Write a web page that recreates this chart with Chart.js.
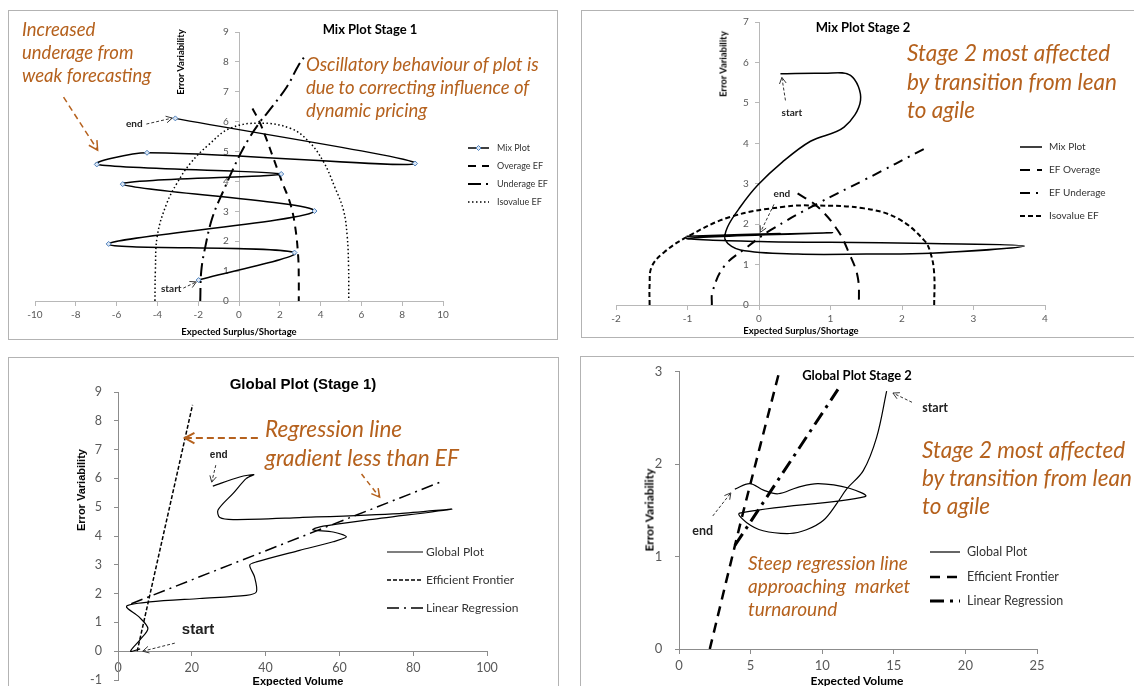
<!DOCTYPE html>
<html>
<head>
<meta charset="utf-8">
<title>Mix and Global plots</title>
<script src="https://cdn.jsdelivr.net/npm/chart.js@4.4.1/dist/chart.umd.min.js"></script>
<style>
  html, body { margin: 0; padding: 0; background: #fff; }
  body { position: relative; width: 1134px; height: 686px; overflow: hidden; font-family: Lato, "Open Sans", sans-serif; }
  .panel { position: absolute; border: 1px solid #b3b3b3; background: #fff; }
  .panel canvas { position: absolute; left: 0; top: 0; }
  .lbl { position: absolute; white-space: nowrap; transform: translate(-50%, -50%); color: #000; font-weight: bold; }
  .vert { transform: translate(-50%, -50%) rotate(-90deg); }
  .note { position: absolute; white-space: nowrap; color: #b5611d; font-style: italic; }
  .arial { font-family: "Liberation Sans", Arial, sans-serif; }
</style>
</head>
<body>
<div class="panel" style="left:8px;top:10px;width:548px;height:328px"><canvas id="c1" width="548" height="328"></canvas></div>
<div class="panel" style="left:581px;top:10px;width:558px;height:326px"><canvas id="c2" width="558" height="326"></canvas></div>
<div class="panel" style="left:8px;top:357px;width:549px;height:340px"><canvas id="c3" width="549" height="340"></canvas></div>
<div class="panel" style="left:580px;top:356px;width:558px;height:340px"><canvas id="c4" width="558" height="340"></canvas></div>

<div class="lbl" style="left:370px;top:29px;font-size:13px">Mix Plot Stage 1</div>
<div class="lbl" style="left:239px;top:331px;font-size:9.5px">Expected Surplus/Shortage</div>
<div class="lbl vert" style="left:180px;top:62px;font-size:9.5px">Error Variability</div>
<div class="note" style="left:22px;top:18px;font-size:18.5px;line-height:23px">Increased<br>underage from<br>weak forecasting</div>
<div class="note" style="left:306px;top:53px;font-size:18.5px;line-height:23px">Oscillatory behaviour of plot is<br>due to correcting influence of<br>dynamic pricing</div>

<div class="lbl" style="left:863px;top:27px;font-size:13px">Mix Plot Stage 2</div>
<div class="lbl" style="left:801px;top:330px;font-size:9.5px">Expected Surplus/Shortage</div>
<div class="lbl vert" style="left:723px;top:64px;font-size:9.5px">Error Variability</div>
<div class="note" style="left:907px;top:39px;font-size:22.5px;line-height:28.5px">Stage 2 most affected<br>by transition from lean<br>to agile</div>

<div class="lbl arial" style="left:303px;top:383px;font-size:15px">Global Plot (Stage 1)</div>
<div class="lbl arial" style="left:298px;top:681px;font-size:11px">Expected Volume</div>
<div class="lbl vert arial" style="left:81px;top:490px;font-size:11px">Error Variability</div>
<div class="note" style="left:265px;top:414px;font-size:22.5px;line-height:29px">Regression line<br>gradient less than EF</div>

<div class="lbl" style="left:857px;top:375px;font-size:13px">Global Plot Stage 2</div>
<div class="lbl" style="left:857px;top:680px;font-size:12px">Expected Volume</div>
<div class="lbl vert" style="left:649px;top:510px;font-size:12px">Error Variability</div>
<div class="note" style="left:922px;top:436px;font-size:22.5px;line-height:28px">Stage 2 most affected<br>by transition from lean<br>to agile</div>
<div class="note" style="left:748px;top:551px;font-size:19px;line-height:23px">Steep regression line<br>approaching&nbsp; market<br>turnaround</div>

<script>
// ---- Mix Plot Stage 1 ----
const mix1X = [-1.98, 2.72, -6.39, 3.70, -5.70, 2.07, -6.97, -4.51, 8.63, -3.12];
const mix1Y = [0.70, 1.62, 1.91, 3.01, 3.91, 4.25, 4.57, 4.96, 4.60, 6.11];
const over1X = [0.66, 1.0, 1.3, 1.69, 2.1, 2.51, 2.75, 2.9, 2.93, 2.93];
const over1Y = [6.44, 6.0, 5.5, 4.77, 4.0, 3.27, 2.5, 1.5, 0.75, 0];
const under1X = [-1.9, -1.85, -1.65, -1.3, -0.75, 0, 0.5, 1.04, 1.37, 2.35, 2.92, 3.33];
const under1Y = [0, 1.0, 1.82, 2.8, 3.71, 4.83, 5.45, 6.0, 6.28, 7.17, 7.89, 8.28];
const iso1X = [-4.12, -4.1, -4.0, -3.55, -3.04, -2.39, -1.5, -0.43, 1.04, 2.51, 3.4, 4.14, 4.7, 5.12, 5.3, 5.37, 5.38];
const iso1Y = [0, 1.0, 2.2, 3.25, 3.94, 4.6, 5.22, 5.78, 5.95, 5.78, 5.35, 4.66, 3.8, 3.04, 2.2, 1.2, 0];

// ---- Mix Plot Stage 2 ----
const mix2X = [0.30, 0.9, 1.28, 1.42, 1.19, 0.72, 0.33, -0.02, -0.26, -0.44, -0.47, -0.26, 0.54, 1.5, 2.4, 3.71, 2.4, 1.0, 0.0, -1.0, 1.03, -1.0, 0.30];
const mix2Y = [5.72, 5.73, 5.68, 5.06, 4.40, 4.05, 3.54, 2.96, 2.43, 1.93, 1.60, 1.36, 1.26, 1.26, 1.28, 1.46, 1.52, 1.55, 1.57, 1.65, 1.79, 1.70, 1.77];
const over2X = [0.54, 0.82, 1.10, 1.26, 1.38, 1.40];
const over2Y = [2.76, 2.43, 1.85, 1.28, 0.70, 0];
const under2X = [-0.66, -0.65, -0.49, -0.19, 0.16, 0.82, 1.47, 2.36];
const under2Y = [0, 0.33, 0.95, 1.40, 1.85, 2.51, 3.09, 3.91];
const iso2X = [-1.53, -1.53, -1.5, -1.33, -1.0, -0.4, 0.35, 0.8, 1.47, 1.94, 2.31, 2.40, 2.45, 2.45];
const iso2Y = [0, 0.5, 0.95, 1.3, 1.69, 2.18, 2.43, 2.46, 2.39, 2.14, 1.6, 1.28, 0.78, 0];

// ---- Global Plot (Stage 1) ----
const glob1X = [6.0, 3.4, 6.0, 8.1, 5.7, 2.3, 8.6, 22.1, 34.8, 37.5, 37.0, 35.7, 37.5, 49.2, 58.3, 61.9, 58.3, 52.8, 55.6, 67.3, 90.4, 76.3, 49.2, 31.2, 27.6, 27.1, 31.2, 34.8, 36.8, 33.0, 25.7];
const glob1Y = [0.08, 0.0, 0.4, 0.79, 1.19, 1.56, 1.71, 1.83, 1.94, 2.06, 2.58, 2.99, 3.1, 3.5, 3.8, 3.97, 4.14, 4.22, 4.34, 4.55, 4.93, 4.78, 4.64, 4.57, 4.64, 4.9, 5.48, 6.0, 6.13, 6.05, 5.73];
const ef1X = [5.2, 20.2];
const ef1Y = [0, 8.55];
const reg1X = [3.6, 88.1];
const reg1Y = [1.65, 5.91];

// ---- Global Plot Stage 2 ----
const glob2X = [14.5, 13.8, 12.87, 11.7, 11.0, 10.07, 8.9, 7.74, 5.87, 4.71, 4.24, 12.99, 11.9, 9.72, 8.3, 6.92, 5.9, 4.94, 3.9];
const glob2Y = [2.79, 2.29, 1.93, 1.73, 1.57, 1.39, 1.29, 1.25, 1.28, 1.37, 1.47, 1.65, 1.74, 1.79, 1.75, 1.68, 1.72, 1.79, 1.73];
const ef2X = [2.15, 4.4, 7.0];
const ef2Y = [0, 1.43, 3.0];
const reg2X = [3.9, 11.1];
const reg2Y = [1.12, 2.81];

const ORANGE = '#b5611d';
Chart.defaults.font.family = 'Lato';

function pts(xs, ys) {
  return xs.map((x, i) => ({ x: x, y: ys[i] }));
}

function series(label, xs, ys, style) {
  return Object.assign({
    label: label, data: pts(xs, ys), showLine: true, fill: false,
    borderColor: '#000', backgroundColor: '#000', borderWidth: 1.5,
    pointRadius: 0, tension: 0.4
  }, style);
}

// gap: spaces after a y label, since labels of an axis placed at a value sit right on the line
function axis(min, max, step, pos, size, pad, col, gap) {
  const a = {
    type: 'linear', min: min, max: max, position: pos,
    ticks: { stepSize: step, autoSkip: false, maxRotation: 0, color: '#595959', padding: pad, font: { size: size } },
    grid: { drawOnChartArea: false, drawTicks: true, tickLength: 4, color: col },
    border: { display: true, color: col }
  };
  if (gap) a.ticks.callback = v => v + ' '.repeat(gap);
  return a;
}

// arrows, start/end labels and the side legend
const notePlugin = {
  id: 'notes',
  afterDraw(chart, args, opts) {
    const ctx = chart.ctx, sx = chart.scales.x, sy = chart.scales.y;
    ctx.save();
    (opts.arrows || []).forEach(a => {
      const x1 = sx.getPixelForValue(a.from[0]), y1 = sy.getPixelForValue(a.from[1]);
      const x2 = sx.getPixelForValue(a.to[0]), y2 = sy.getPixelForValue(a.to[1]);
      ctx.strokeStyle = a.color || '#333';
      ctx.lineWidth = a.width || 1;
      ctx.setLineDash(a.dash || [3, 2]);
      ctx.beginPath(); ctx.moveTo(x1, y1); ctx.lineTo(x2, y2); ctx.stroke();
      const ang = Math.atan2(y2 - y1, x2 - x1), h = a.head || 7;
      ctx.setLineDash([]);
      ctx.beginPath();
      ctx.moveTo(x2 - h * Math.cos(ang - 0.5), y2 - h * Math.sin(ang - 0.5));
      ctx.lineTo(x2, y2);
      ctx.lineTo(x2 - h * Math.cos(ang + 0.5), y2 - h * Math.sin(ang + 0.5));
      ctx.stroke();
    });
    (opts.labels || []).forEach(l => {
      ctx.fillStyle = '#222';
      ctx.font = l.font || opts.labelFont;
      ctx.textAlign = 'center';
      ctx.textBaseline = 'middle';
      ctx.fillText(l.text, sx.getPixelForValue(l.x), sy.getPixelForValue(l.y));
    });
    const lg = opts.legend;
    if (lg) {
      chart.data.datasets.forEach((ds, i) => {
        const y = lg.ys[i];
        ctx.strokeStyle = ds.borderColor;
        ctx.lineWidth = ds.borderWidth;
        ctx.setLineDash(ds.borderDash || []);
        ctx.beginPath(); ctx.moveTo(lg.x, y); ctx.lineTo(lg.x + lg.len, y); ctx.stroke();
        ctx.setLineDash([]);
        if (ds.pointRadius > 0) {
          const cx = lg.x + lg.len / 2, r = ds.pointRadius;
          ctx.beginPath();
          ctx.moveTo(cx, y - r); ctx.lineTo(cx + r, y); ctx.lineTo(cx, y + r); ctx.lineTo(cx - r, y); ctx.closePath();
          ctx.fillStyle = ds.pointBackgroundColor; ctx.fill();
          ctx.strokeStyle = ds.pointBorderColor; ctx.lineWidth = 1; ctx.stroke();
        }
        ctx.fillStyle = '#333';
        ctx.font = lg.font;
        ctx.textAlign = 'left';
        ctx.textBaseline = 'middle';
        ctx.fillText(ds.label, lg.x + lg.len + lg.gap, y);
      });
    }
    ctx.restore();
  }
};

function makeChart(id, datasets, xAxis, yAxis, pad, notes) {
  return new Chart(document.getElementById(id), {
    type: 'scatter',
    data: { datasets: datasets },
    options: {
      responsive: false, animation: false, events: [],
      layout: { padding: pad },
      scales: { x: xAxis, y: yAxis },
      plugins: { legend: { display: false }, tooltip: { enabled: false }, notes: notes }
    },
    plugins: [notePlugin]
  });
}

makeChart('c1', [
  series('Mix Plot', mix1X, mix1Y, { tension: 0.3, pointRadius: 2.5, pointStyle: 'rectRot', pointBorderColor: '#4f81bd', pointBackgroundColor: '#dce6f2', pointBorderWidth: 1 }),
  series('Overage EF', over1X, over1Y, { borderWidth: 2, borderDash: [8, 6] }),
  series('Underage EF', under1X, under1Y, { borderWidth: 2, borderDash: [13, 5, 2, 5] }),
  series('Isovalue EF', iso1X, iso1Y, { borderWidth: 1.5, borderDash: [1.5, 2.5] })
], axis(-10, 10, 2, { y: 0 }, 10, 4, '#b8b8b8'), axis(0, 9, 1, { x: 0 }, 10, 4, '#b8b8b8', 4),
  { left: 26, right: 114, top: 21, bottom: 38 },
  {
    labelFont: 'bold 10px Lato',
    labels: [{ text: 'end', x: -5.13, y: 5.92 }, { text: 'start', x: -3.32, y: 0.40 }],
    arrows: [
      { from: [-4.54, 5.92], to: [-3.27, 6.12] },
      { from: [-2.73, 0.43], to: [-2.09, 0.64] },
      { from: [-8.60, 6.82], to: [-6.93, 5.05], color: ORANGE, width: 1.5, dash: [6, 4], head: 10 }
    ],
    legend: { x: 459, len: 21, gap: 8, ys: [137, 155, 173, 191], font: '9px Lato' }
  });

makeChart('c2', [
  series('Mix Plot', mix2X, mix2Y, { tension: 0.35 }),
  series('EF Overage', over2X, over2Y, { borderWidth: 2, borderDash: [10, 7] }),
  series('EF Underage', under2X, under2Y, { borderWidth: 2, borderDash: [10, 6, 2, 6] }),
  series('Isovalue EF', iso2X, iso2Y, { borderWidth: 2, borderDash: [5, 3] })
], axis(-2, 4, 1, { y: 0 }, 10, 4, '#b8b8b8'), axis(0, 7, 1, { x: 0 }, 10, 4, '#b8b8b8', 4),
  { left: 34, right: 95, top: 11, bottom: 32 },
  {
    labelFont: 'bold 10px Lato',
    labels: [{ text: 'start', x: 0.46, y: 4.75 }, { text: 'end', x: 0.32, y: 2.74 }],
    arrows: [
      { from: [0.37, 5.06], to: [0.32, 5.63] },
      { from: [0.21, 2.49], to: [0.02, 1.80] }
    ],
    legend: { x: 438, len: 22, gap: 7, ys: [136, 159, 182, 205], font: '10px Lato' }
  });

makeChart('c3', [
  series('Global Plot', glob1X, glob1Y, { borderWidth: 1.2, tension: 0.3 }),
  series('Efficient Frontier', ef1X, ef1Y, { borderWidth: 1.5, borderDash: [4, 2], tension: 0 }),
  series('Linear Regression', reg1X, reg1Y, { borderWidth: 1.5, borderDash: [12, 5, 2, 5], tension: 0 })
], axis(0, 100, 20, { y: 0 }, 12.5, 5, '#8c8c8c'), axis(-1, 9, 1, { x: 0 }, 12.5, 8, '#8c8c8c', 5),
  { left: 109, right: 71, top: 34, bottom: 18 },
  {
    labelFont: 'bold 10px "Liberation Sans"',
    labels: [{ text: 'end', x: 27.3, y: 6.81 }, { text: 'start', x: 21.7, y: 0.75, font: 'bold 15px "Liberation Sans"' }],
    arrows: [
      { from: [37.9, 7.4], to: [18.1, 7.4], color: ORANGE, width: 2, dash: [7, 4], head: 11 },
      { from: [66.0, 6.15], to: [70.9, 5.35], color: ORANGE, width: 1.5, dash: [5, 4], head: 9 },
      { from: [26.5, 6.46], to: [25.4, 5.87] },
      { from: [15.4, 0.28], to: [6.7, 0.0] }
    ],
    legend: { x: 378, len: 36, gap: 3, ys: [194, 222, 250], font: '12px Lato' }
  });

makeChart('c4', [
  series('Global Plot', glob2X, glob2Y, { borderWidth: 1.2, tension: 0.35 }),
  series('Efficient Frontier', ef2X, ef2Y, { borderWidth: 2.5, borderDash: [10, 7], tension: 0.2 }),
  series('Linear Regression', reg2X, reg2Y, { borderWidth: 3, borderDash: [14, 6, 3, 6], tension: 0 })
], axis(0, 25, 5, { y: 0 }, 13, 5, '#8c8c8c'), axis(0, 3, 1, { x: 0 }, 13, 7, '#8c8c8c', 5),
  { left: 98, right: 102, top: 14, bottom: 48 },
  {
    labelFont: 'bold 12.5px Lato',
    labels: [{ text: 'start', x: 17.88, y: 2.61 }, { text: 'end', x: 1.66, y: 1.28 }],
    arrows: [
      { from: [16.27, 2.67], to: [14.94, 2.77] },
      { from: [2.36, 1.44], to: [3.62, 1.69] }
    ],
    legend: { x: 349, len: 30, gap: 7, ys: [195, 220, 244], font: '12.5px Lato' }
  });
</script>
</body>
</html>
